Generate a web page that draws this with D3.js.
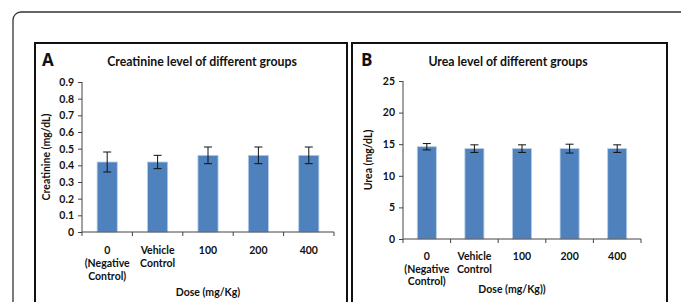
<!DOCTYPE html>
<html>
<head>
<meta charset="utf-8">
<script src="https://cdn.jsdelivr.net/npm/d3@7"></script>
<style>
	body { margin: 0; background: #fff; }
	svg text { font-family: Lato, "Open Sans", sans-serif; font-weight: bold; fill: #111; }
</style>
</head>
<body>
<div id="chart"></div>
<script>
// Data
const groupLines = [["0", "(Negative", "Control)"], ["Vehicle", "Control"], ["100"], ["200"], ["400"]];
const creatinineMean = [0.42, 0.42, 0.46, 0.46, 0.46];
const creatinineErr = [0.06, 0.04, 0.05, 0.05, 0.05];
const creatinineTicks = [0, 0.1, 0.2, 0.3, 0.4, 0.5, 0.6, 0.7, 0.8, 0.9];
const ureaMean = [14.6, 14.3, 14.3, 14.3, 14.3];
const ureaErr = [0.5, 0.6, 0.6, 0.7, 0.6];
const ureaTicks = [0, 5, 10, 15, 20, 25];

const width = 681, height = 302;
const svg = d3.select('#chart').append('svg')
	.attr('width', width)
	.attr('height', height);

// outer rounded frame (runs off the page on the right and bottom)
svg.append('rect')
	.attr('x', 13).attr('y', 12)
	.attr('width', 720).attr('height', 340)
	.attr('rx', 8)
	.style('fill', 'none')
	.style('stroke', '#333')
	.style('stroke-width', 1.3);

function drawPanel(opts) {
	const g = svg.append('g');

	// panel frame
	g.append('rect')
		.attr('x', opts.box[0]).attr('y', opts.box[1])
		.attr('width', opts.box[2]).attr('height', 320)
		.style('fill', 'none')
		.style('stroke', '#111')
		.style('stroke-width', 2);

	g.append('text')
		.attr('x', opts.letterX).attr('y', 66)
		.style('font-size', '17px')
		.style('font-family', '"Open Sans", sans-serif')
		.text(opts.letter);

	g.append('text')
		.attr('x', opts.titleX).attr('y', 66)
		.attr('text-anchor', 'middle')
		.style('font-size', '12.3px')
		.text(opts.title);

	const x = d3.scaleBand()
		.domain(d3.range(opts.mean.length))
		.range([opts.x0, opts.x1])
		.paddingInner(0.6)
		.paddingOuter(0.3);

	const y = d3.scaleLinear()
		.domain([0, opts.max])
		.range([opts.y0, opts.y1]);

	// bars
	g.selectAll('rect.bar')
		.data(opts.mean)
		.enter()
		.append('rect')
			.classed('bar', true)
			.attr('x', (d, i) => x(i))
			.attr('y', d => y(d))
			.attr('width', x.bandwidth())
			.attr('height', d => y(0) - y(d))
			.style('fill', '#4f81bd')
			.style('stroke', '#b9cde5')
			.style('stroke-width', 0.8);

	// error bars
	const eb = g.selectAll('g.err')
		.data(opts.mean)
		.enter()
		.append('g')
			.classed('err', true)
			.attr('transform', (d, i) => `translate(${x(i) + x.bandwidth() / 2},0)`);
	eb.append('line')
		.attr('y1', (d, i) => y(d - opts.err[i]))
		.attr('y2', (d, i) => y(d + opts.err[i]));
	eb.append('line')
		.attr('x1', -4).attr('x2', 4)
		.attr('y1', (d, i) => y(d + opts.err[i]))
		.attr('y2', (d, i) => y(d + opts.err[i]));
	eb.append('line')
		.attr('x1', -4).attr('x2', 4)
		.attr('y1', (d, i) => y(d - opts.err[i]))
		.attr('y2', (d, i) => y(d - opts.err[i]));
	eb.selectAll('line')
		.style('stroke', '#111')
		.style('stroke-width', 1);

	// y axis
	const yAxis = d3.axisLeft(y)
		.tickValues(opts.ticks)
		.tickFormat(opts.fmt)
		.tickSize(4)
		.tickPadding(4);
	const ya = g.append('g')
		.attr('transform', `translate(${opts.x0},0)`)
		.call(yAxis);
	ya.select('.domain').attr('d', `M0,${opts.y0}V${opts.y1}`);
	ya.selectAll('text')
		.style('font-size', '10.5px')
		.style('font-family', 'Lato, sans-serif');

	// x axis with ticks on category boundaries
	const xa = g.append('g')
		.attr('transform', `translate(0,${opts.y0})`);
	xa.append('line')
		.attr('x1', opts.x0).attr('x2', opts.x1);
	const step = (opts.x1 - opts.x0) / opts.mean.length;
	xa.selectAll('line.tick')
		.data(d3.range(opts.mean.length + 1))
		.enter()
		.append('line')
			.classed('tick', true)
			.attr('x1', i => opts.x0 + i * step)
			.attr('x2', i => opts.x0 + i * step)
			.attr('y1', 0).attr('y2', 4);
	xa.selectAll('line').style('stroke', '#444').style('stroke-width', 1);
	ya.selectAll('line, path').style('stroke', '#444').style('stroke-width', 1);

	// category labels
	const lab = g.selectAll('text.cat')
		.data(groupLines)
		.enter()
		.append('text')
			.classed('cat', true)
			.attr('text-anchor', 'middle')
			.attr('transform', (d, i) => `translate(${opts.x0 + (i + 0.5) * step},${opts.labY})`)
			.style('font-size', '10.5px');
	lab.selectAll('tspan')
		.data(d => d)
		.enter()
		.append('tspan')
			.attr('x', 0)
			.attr('dy', (d, i) => i === 0 ? 0 : opts.lineH)
			.text(d => d);

	// axis titles
	g.append('text')
		.attr('x', opts.xTitleX).attr('y', opts.xTitleY)
		.attr('text-anchor', 'middle')
		.style('font-size', '10.5px')
		.text(opts.xTitle);

	g.append('text')
		.attr('transform', `translate(${opts.yTitleX},${opts.yTitleY}) rotate(-90)`)
		.attr('text-anchor', 'middle')
		.style('font-size', '10.5px')
		.text(opts.yTitle);
}

drawPanel({
	box: [35, 43, 312],
	letter: 'A', letterX: 42,
	title: 'Creatinine level of different groups', titleX: 202,
	mean: creatinineMean, err: creatinineErr, ticks: creatinineTicks,
	fmt: d => d === 0 ? '0' : d3.format('.1f')(d),
	max: 0.9,
	x0: 82, x1: 334, y0: 232, y1: 82,
	labY: 254, lineH: 13,
	xTitle: 'Dose (mg/Kg)', xTitleX: 208, xTitleY: 296,
	yTitle: 'Creatinine (mg/dL)', yTitleX: 50, yTitleY: 157
});

drawPanel({
	box: [352, 43, 315],
	letter: 'B', letterX: 361,
	title: 'Urea level of different groups', titleX: 508,
	mean: ureaMean, err: ureaErr, ticks: ureaTicks,
	fmt: d => d,
	max: 25,
	x0: 403, x1: 641, y0: 239, y1: 81,
	labY: 260, lineH: 12.5,
	xTitle: 'Dose (mg/Kg))', xTitleX: 512, xTitleY: 293,
	yTitle: 'Urea (mg/dL)', yTitleX: 372, yTitleY: 160
});
</script>
</body>
</html>
